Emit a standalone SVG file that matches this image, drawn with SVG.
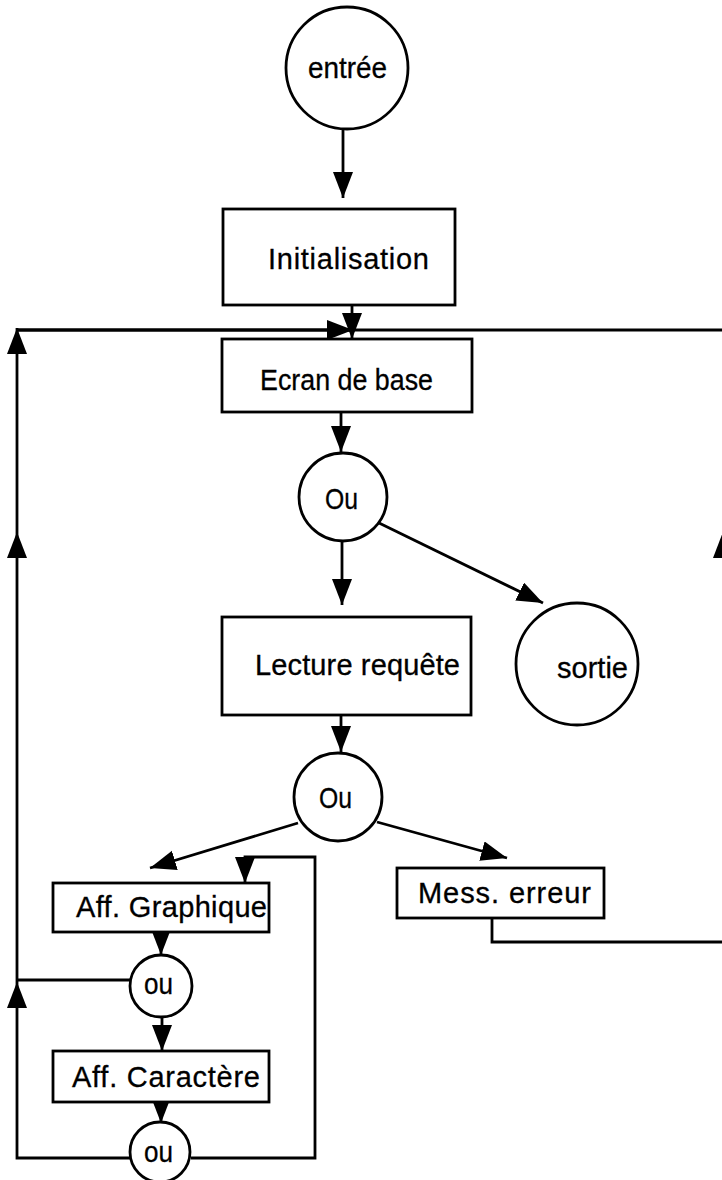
<svg xmlns="http://www.w3.org/2000/svg" width="722" height="1180" viewBox="0 0 722 1180">
<style>
.n{fill:#fff;stroke:#000;stroke-width:2.8}
.t{font-family:"Liberation Sans",Arial,sans-serif;font-size:29px;fill:#000;stroke:#000;stroke-width:0.3}
.c{fill:none;stroke:#000;stroke-width:2.8}
.ah{fill:#000}
</style>
<defs>
<marker id="arr" markerUnits="userSpaceOnUse" markerWidth="28" markerHeight="22" refX="26" refY="10" orient="auto">
<path d="M0,0 L26,10 L0,20 Z" fill="#000"/>
</marker>
</defs>
<rect width="722" height="1180" fill="#fff"/>
<g id="connectors">
<path class="c" d="M343 130 L343 198" marker-end="url(#arr)"/>
<path class="c" d="M352 305 L352 339" marker-end="url(#arr)"/>
<path class="c" d="M17 330 L722 330"/>
<path class="c" d="M17 330 L353 330" marker-end="url(#arr)"/>
<path class="c" d="M341 412 L341 452" marker-end="url(#arr)"/>
<path class="c" d="M342 541 L342 605" marker-end="url(#arr)"/>
<path class="c" d="M377 522 L543 603" marker-end="url(#arr)"/>
<path class="c" d="M341 715 L341 752" marker-end="url(#arr)"/>
<path class="c" d="M298 823 L150 868" marker-end="url(#arr)"/>
<path class="c" d="M377 822 L507 858" marker-end="url(#arr)"/>
<path class="c" d="M161 932 L161 955" marker-end="url(#arr)"/>
<path class="c" d="M162 1017 L162 1051" marker-end="url(#arr)"/>
<path class="c" d="M161 1102 L161 1123" marker-end="url(#arr)"/>
<path class="c" d="M130 1158 L17 1158 L17 982" marker-end="url(#arr)"/>
<path class="c" d="M17 982 L17 532" marker-end="url(#arr)"/>
<path class="c" d="M17 532 L17 328" marker-end="url(#arr)"/>
<path class="c" d="M130 980 L17 980"/>
<path class="c" d="M191 1158 L315 1158 L315 857 L245 857 L245 883" marker-end="url(#arr)"/>
<path class="c" d="M492 918 L492 942 L730 942 L730 330"/>
<polygon class="ah" points="723,532 713,558 733,558"/>
</g>
<g id="entree"><circle class="n" cx="347" cy="68" r="61"/><text class="t" x="308" y="78" textLength="79" lengthAdjust="spacingAndGlyphs">entrée</text></g>
<g id="initialisation"><rect class="n" x="223" y="209" width="232" height="96"/><text class="t" x="268" y="269" textLength="161" lengthAdjust="spacing">Initialisation</text></g>
<g id="ecran"><rect class="n" x="222" y="339" width="250" height="73"/><text class="t" x="260" y="390" textLength="173" lengthAdjust="spacingAndGlyphs">Ecran de base</text></g>
<g id="ou1"><circle class="n" cx="343" cy="497" r="44"/><text class="t" x="325" y="509" textLength="33" lengthAdjust="spacingAndGlyphs">Ou</text></g>
<g id="lecture"><rect class="n" x="222" y="617" width="249" height="98"/><text class="t" x="255" y="675" textLength="205" lengthAdjust="spacing">Lecture  requête</text></g>
<g id="sortie"><circle class="n" cx="577" cy="664" r="61"/><text class="t" x="557" y="678" textLength="71" lengthAdjust="spacingAndGlyphs">sortie</text></g>
<g id="ou2"><circle class="n" cx="338" cy="797" r="44"/><text class="t" x="319" y="808" textLength="33" lengthAdjust="spacingAndGlyphs">Ou</text></g>
<g id="affgraph"><rect class="n" x="53" y="883" width="216" height="49"/><text class="t" x="76" y="917" textLength="191" lengthAdjust="spacing">Aff.  Graphique</text></g>
<g id="mess"><rect class="n" x="397" y="868" width="207" height="50"/><text class="t" x="418" y="903" textLength="173" lengthAdjust="spacing">Mess.  erreur</text></g>
<g id="ou3"><circle class="n" cx="161" cy="986" r="31"/><text class="t" x="144" y="994" textLength="29" lengthAdjust="spacingAndGlyphs">ou</text></g>
<g id="affcar"><rect class="n" x="53" y="1051" width="216" height="51"/><text class="t" x="72" y="1087" textLength="188" lengthAdjust="spacing">Aff.  Caractère</text></g>
<g id="ou4"><circle class="n" cx="160" cy="1152" r="30"/><text class="t" x="144" y="1162" textLength="29" lengthAdjust="spacingAndGlyphs">ou</text></g>
</svg>
